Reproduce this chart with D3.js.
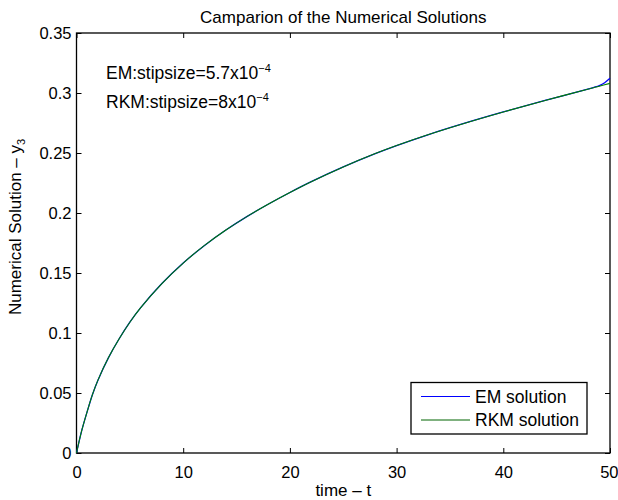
<!DOCTYPE html>
<html>
<head>
<meta charset="utf-8">
<script src="https://cdn.jsdelivr.net/npm/d3@7"></script>
<style>
  body { margin: 0; background: #fff; }
  svg { display: block; font-family: "Liberation Sans", Arial, Helvetica, sans-serif; }
</style>
</head>
<body>
<div id="chart"></div>
<script>
// values
const timeEM  = [0, 0.5, 1, 1.5, 2, 3, 4, 5, 6, 8, 10, 12, 14, 16, 18, 20, 22, 25, 28, 30, 33, 36, 40, 44, 48, 48.5, 49, 49.5, 50]
const valueEM = [0, 0.019, 0.0345, 0.0488, 0.0605, 0.0795, 0.0952, 0.109, 0.1209, 0.1412, 0.1583, 0.173, 0.1858, 0.1972, 0.2075, 0.2171, 0.2261, 0.2384, 0.2495, 0.2562, 0.2654, 0.2738, 0.2842, 0.294, 0.3034, 0.3047, 0.3062, 0.3086, 0.3122]
const timeRKM  = [0, 0.5, 1, 1.5, 2, 3, 4, 5, 6, 8, 10, 12, 14, 16, 18, 20, 22, 25, 28, 30, 33, 36, 40, 44, 48, 49, 50]
const valueRKM = [0, 0.019, 0.0345, 0.0488, 0.0605, 0.0795, 0.0952, 0.109, 0.1209, 0.1412, 0.1583, 0.173, 0.1858, 0.1972, 0.2075, 0.2171, 0.2261, 0.2384, 0.2495, 0.2562, 0.2654, 0.2738, 0.2842, 0.294, 0.3034, 0.3057, 0.308]
const xTicks = [0, 10, 20, 30, 40, 50]
const yTicks = [0, 0.05, 0.1, 0.15, 0.2, 0.25, 0.3, 0.35]

const W = 618, H = 500
const MARGIN = { TOP: 33, BOTTOM: 47, LEFT: 76.5, RIGHT: 8 }
const FS = 17
const TICK_FS = 16.5

const svg = d3.select("#chart").append("svg")
  .attr("width", W).attr("height", H)

const x = d3.scaleLinear().domain([0, 50]).range([MARGIN.LEFT, W - MARGIN.RIGHT])
const y = d3.scaleLinear().domain([0, 0.35]).range([H - MARGIN.BOTTOM, MARGIN.TOP])

// axes, ticks pointing inward
const xAxisG = svg.append("g")
  .attr("transform", `translate(0,${y(0)})`)
  .call(d3.axisBottom(x).tickValues(xTicks).tickFormat(d3.format("d"))
    .tickSizeInner(-5).tickSizeOuter(0).tickPadding(13))
svg.append("g")
  .attr("transform", `translate(${x(0)},0)`)
  .call(d3.axisLeft(y).tickValues(yTicks).tickFormat(d => d === 0 ? "0" : String(+d.toFixed(2)))
    .tickSizeInner(-5).tickSizeOuter(0).tickPadding(5))
svg.append("g")
  .attr("transform", `translate(0,${y(0.35)})`)
  .call(d3.axisTop(x).tickValues(xTicks).tickFormat("").tickSizeInner(-5).tickSizeOuter(0))
svg.append("g")
  .attr("transform", `translate(${x(50)},0)`)
  .call(d3.axisRight(y).tickValues(yTicks).tickFormat("").tickSizeInner(-5).tickSizeOuter(0))

svg.selectAll(".domain").remove()
svg.selectAll(".tick line").attr("stroke", "#000").attr("stroke-width", 1)
svg.selectAll(".tick text").attr("font-size", TICK_FS).attr("fill", "#000")
  .attr("font-family", "Liberation Sans, Arial, sans-serif")
// last x label sits against the page edge
xAxisG.selectAll(".tick text").filter(d => d === 50).attr("text-anchor", "end").attr("x", 8)

// box
svg.append("rect")
  .attr("x", x(0)).attr("y", y(0.35))
  .attr("width", x(50) - x(0)).attr("height", y(0) - y(0.35))
  .attr("fill", "none").attr("stroke", "#000").attr("stroke-width", 1.3)

// lines
const lineGen = d3.line().x(d => x(d[0])).y(d => y(d[1])).curve(d3.curveCatmullRom.alpha(0.5))
const emData = timeEM.map((t, i) => [t, valueEM[i]])
const rkmData = timeRKM.map((t, i) => [t, valueRKM[i]])

svg.append("path").datum(emData)
  .attr("d", lineGen).attr("fill", "none")
  .attr("stroke", "#0000ff").attr("stroke-width", 1.3)
svg.append("path").datum(rkmData)
  .attr("d", lineGen).attr("fill", "none")
  .attr("stroke", "#008000").attr("stroke-width", 1.1)

// title + axis labels
svg.append("text")
  .attr("x", (x(0) + x(50)) / 2).attr("y", 23)
  .attr("text-anchor", "middle").attr("font-size", FS)
  .text("Camparion of the Numerical Solutions")

svg.append("text")
  .attr("x", (x(0) + x(50)) / 2).attr("y", 496)
  .attr("text-anchor", "middle").attr("font-size", FS)
  .text("time \u2013 t")

const yLab = svg.append("text")
  .attr("transform", "translate(21,227) rotate(-90)")
  .attr("text-anchor", "middle").attr("font-size", FS)
yLab.append("tspan").text("Numerical Solution \u2013 y")
yLab.append("tspan").attr("font-size", 11).attr("dy", 4).text("3")

// annotations
const ann1 = svg.append("text").attr("x", 106).attr("y", 79).attr("font-size", 17.5)
ann1.append("tspan").text("EM:stipsize=5.7x10")
ann1.append("tspan").attr("font-size", 11).attr("dy", -7).text("\u22124")
const ann2 = svg.append("text").attr("x", 106).attr("y", 108).attr("font-size", 17.5)
ann2.append("tspan").text("RKM:stipsize=8x10")
ann2.append("tspan").attr("font-size", 11).attr("dy", -7).text("\u22124")

// legend
const legend = svg.append("g")
legend.append("rect")
  .attr("x", 411).attr("y", 382.5).attr("width", 176).attr("height", 51.5)
  .attr("fill", "#fff").attr("stroke", "#000").attr("stroke-width", 1.3)
const legendItems = [
  { label: "EM solution", color: "#0000ff", y: 396.5 },
  { label: "RKM solution", color: "#006400", y: 420 }
]
legendItems.forEach(d => {
  legend.append("line")
    .attr("x1", 421).attr("x2", 470).attr("y1", d.y).attr("y2", d.y)
    .attr("stroke", d.color).attr("stroke-width", 1)
  legend.append("text")
    .attr("x", 475).attr("y", d.y + 6).attr("font-size", 17.5)
    .text(d.label)
})
</script>
</body>
</html>
